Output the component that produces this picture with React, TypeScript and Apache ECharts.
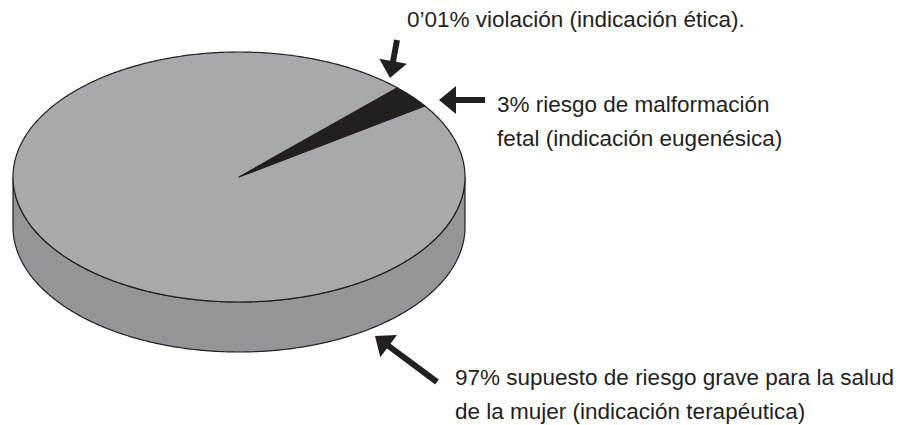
import React, { useEffect, useRef } from "react";
import * as echarts from "echarts";

// Data
const categories = [
  "0’01% violación (indicación ética).",
  "3% riesgo de malformación\nfetal (indicación eugenésica)",
  "97% supuesto de riesgo grave para la salud\nde la mujer (indicación terapéutica)",
];
const values = [0.01, 3, 97];

// Styles
const topColors = ["#231f20", "#231f20", "#a7a9ac"];
const sideColors = ["#231f20", "#231f20", "#939598"];
const INK = "#231f20";
const FONT = '"Liberation Sans", Arial, sans-serif';
const FONT_SIZE = 22.5;
const LINE_H = 34;

const geom = { cx: 239, cy: 177, rx: 226, ry: 125, depth: 50, start: 45.5 };

function pt(a: number, dy = 0): number[] {
  const r = (a * Math.PI) / 180;
  return [geom.cx + geom.rx * Math.cos(r), geom.cy - geom.ry * Math.sin(r) + dy];
}

function arcPts(from: number, to: number, dy = 0): number[][] {
  const n = Math.max(2, Math.ceil(Math.abs(to - from) / 0.5) + 1);
  const out: number[][] = [];
  for (let i = 0; i < n; i++) out.push(pt(from + ((to - from) * i) / (n - 1), dy));
  return out;
}

function renderItem(params: any, api: any) {
  const idx = params.dataIndex;
  const total = values.reduce((s, v) => s + v, 0);
  let before = 0;
  for (let i = 0; i < idx; i++) before += values[i];
  const a1 = geom.start - (360 * before) / total;
  const a2 = a1 - (360 * api.value(0)) / total;
  const children: any[] = [];
  // visible side (front half: angles in [-180+360k, 360k])
  for (let k = -1; k <= 1; k++) {
    const lo = Math.max(a2, -180 + 360 * k);
    const hi = Math.min(a1, 360 * k);
    if (hi > lo) {
      const pts = arcPts(lo, hi, 0).concat(arcPts(hi, lo, geom.depth));
      children.push({
        type: "polygon",
        shape: { points: pts },
        style: { fill: sideColors[idx], stroke: INK, lineWidth: 1.2 },
      });
    }
  }
  const top = [[geom.cx, geom.cy]].concat(arcPts(a1, a2, 0));
  children.push({
    type: "polygon",
    shape: { points: top },
    style: { fill: topColors[idx], stroke: INK, lineWidth: 1.2, lineJoin: "round" },
  });
  return { type: "group", children };
}

function arrow(tail: number[], tip: number[], headLen = 17, headHalf = 14, shaft = 6): any[] {
  const dx = tip[0] - tail[0];
  const dy = tip[1] - tail[1];
  const L = Math.hypot(dx, dy);
  const ux = dx / L;
  const uy = dy / L;
  const bx = tip[0] - ux * headLen;
  const by = tip[1] - uy * headLen;
  return [
    {
      type: "line",
      shape: { x1: tail[0], y1: tail[1], x2: bx + ux * 2, y2: by + uy * 2 },
      style: { stroke: INK, lineWidth: shaft },
    },
    {
      type: "polygon",
      shape: {
        points: [
          tip,
          [bx - uy * headHalf, by + ux * headHalf],
          [bx + uy * headHalf, by - ux * headHalf],
        ],
      },
      style: { fill: INK },
    },
  ];
}

function label(text: string, x: number, y: number) {
  return {
    type: "text",
    x,
    y,
    style: {
      text,
      fontSize: FONT_SIZE,
      fontFamily: FONT,
      fill: INK,
      lineHeight: LINE_H,
      verticalAlign: "top",
      align: "left",
    },
  };
}

export default function App() {
  const ref = useRef<HTMLDivElement>(null);
  useEffect(() => {
    if (!ref.current) return;
    const chart = echarts.init(ref.current, undefined, { renderer: "svg" });
    chart.setOption({
      animation: false,
      backgroundColor: "#ffffff",
      series: [
        {
          type: "custom",
          coordinateSystem: "none",
          renderItem,
          data: values.map((v, i) => ({ name: categories[i], value: [v] })),
        },
      ],
      graphic: [
        ...arrow([397, 40], [390, 78]),
        ...arrow([485, 100], [439, 100]),
        ...arrow([437, 382], [375, 336]),
        label(categories[0], 407, 2),
        label(categories[1], 497, 87),
        label(categories[2], 455, 360),
      ],
    });
    return () => chart.dispose();
  }, []);
  return (
    <div
      ref={ref}
      style={{ position: "fixed", left: 0, top: 0, width: 900, height: 425 }}
    />
  );
}
